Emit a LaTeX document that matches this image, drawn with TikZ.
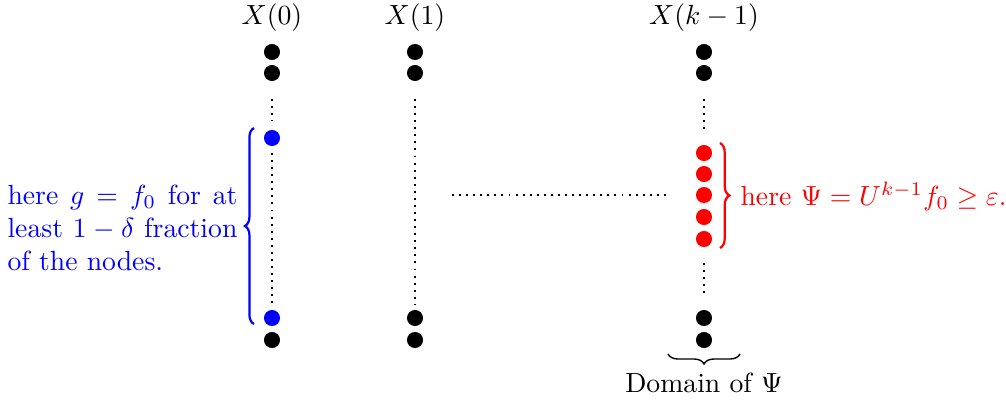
\documentclass[tikz,border=0pt]{standalone}
\usepackage{amsmath,amssymb}
\usetikzlibrary{decorations.pathreplacing}
\begin{document}
\begin{tikzpicture}[x=0.361pt,y=-0.361pt,
  dot/.style={circle,fill=#1,inner sep=0pt,minimum size=5.8pt},
  dot/.default=black,
  dotline/.style={line width=0.7pt,dash pattern=on 0.7pt off 1.85pt},
  bracedeco/.style={decorate,decoration={brace,amplitude=#1}},
  lbl/.style={inner sep=0pt}]
\useasboundingbox (0,0) rectangle (1006,403);

% column headers
\node[lbl] (h0) at (272,18) {$X(0)$};
\node[lbl] (h1) at (415,18) {$X(1)$};
\node[lbl] (h2) at (704,18) {$X(k-1)$};

% column X(0)
\node[dot] (a1) at (272,52) {};
\node[dot] (a2) at (272,73) {};
\node[dot=blue] (ab1) at (272,138) {};
\node[dot=blue] (ab2) at (272,318) {};
\node[dot] (a3) at (272,340) {};
\coordinate (a2d) at (272,99);
\coordinate (ab1u) at (272,121);
\coordinate (ab1d) at (272,153);
\coordinate (ab2u) at (272,304);
\draw[dotline] (a2d) -- (ab1u);
\draw[dotline] (ab1d) -- (ab2u);

% column X(1)
\node[dot] (b1) at (415,52) {};
\node[dot] (b2) at (415,73) {};
\node[dot] (b3) at (415,318) {};
\node[dot] (b4) at (415,340) {};
\coordinate (b2d) at (415,99);
\coordinate (b3u) at (415,304);
\draw[dotline] (b2d) -- (b3u);

% column X(k-1)
\node[dot] (c1) at (704,52) {};
\node[dot] (c2) at (704,73) {};
\foreach \i/\y in {1/153,2/174,3/195,4/217,5/239}
  \node[dot=red] (r\i) at (704,\y) {};
\node[dot] (c3) at (704,318) {};
\node[dot] (c4) at (704,340) {};
\coordinate (c2d) at (704,99);
\coordinate (r1u) at (704,129);
\coordinate (r5d) at (704,263);
\coordinate (c3u) at (704,294);
\draw[dotline] (c2d) -- (r1u);
\draw[dotline] (r5d) -- (c3u);

% omitted columns
\coordinate (mid1) at (452,195);
\coordinate (mid2) at (668,195);
\draw[dotline] (mid1) -- (mid2);

% blue brace and text
\coordinate (bb1) at (254,324);
\coordinate (bb2) at (254,128);
\draw[blue,line width=0.8pt,bracedeco=3.3pt] (bb1) -- (bb2);
\node[blue,inner sep=0pt,text width=83pt,align=justify,anchor=east] (btext) at (238,228)
  {here $g = f_0$ for at least $1-\delta$ fraction of the nodes.};

% red brace and text
\coordinate (rb1) at (720,143);
\coordinate (rb2) at (720,248);
\draw[red,line width=0.8pt,bracedeco=3.4pt] (rb1) -- (rb2);
\node[red,inner sep=0pt,anchor=west] (rtext) at (740,196)
  {here $\Psi = U^{k-1} f_0 \ge \varepsilon$.};

% domain brace
\coordinate (db1) at (740,354);
\coordinate (db2) at (668,354);
\draw[line width=0.5pt,bracedeco=3.6pt] (db1) -- (db2);
\node[lbl] (dtext) at (704,383) {Domain of $\Psi$};
\end{tikzpicture}
\end{document}
